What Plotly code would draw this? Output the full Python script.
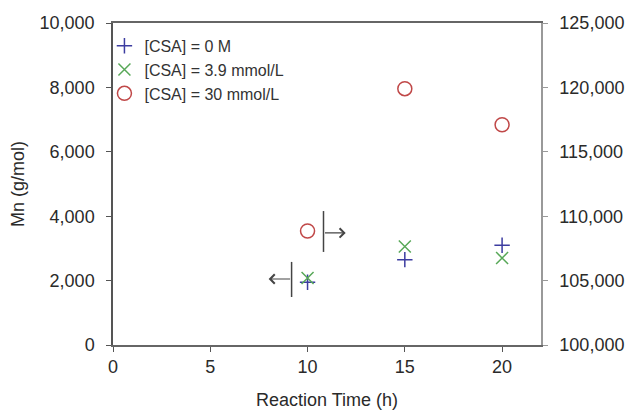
import plotly.graph_objects as go

time_h = [10, 15, 20]
mn_csa0 = [1950, 2650, 3100]          # left axis
mn_csa39 = [2080, 3060, 2700]         # left axis
mn_csa30 = [108850, 119900, 117100]   # right axis

x_ticks = [0, 5, 10, 15, 20]
y_left_ticks = [0, 2000, 4000, 6000, 8000, 10000]
y_right_ticks = [100000, 105000, 110000, 115000, 120000, 125000]

font = "Liberation Sans, Arial, sans-serif"

fig = go.Figure()
fig.add_trace(go.Scatter(
    x=time_h, y=mn_csa0, mode="markers", name="[CSA] = 0 M",
    marker=dict(symbol="cross-thin", size=11, line=dict(color="#3c3ca0", width=1.5)),
))
fig.add_trace(go.Scatter(
    x=time_h, y=mn_csa39, mode="markers", name="[CSA] = 3.9 mmol/L",
    marker=dict(symbol="x-thin", size=12, line=dict(color="#58a858", width=1.5)),
))
fig.add_trace(go.Scatter(
    x=time_h, y=mn_csa30, mode="markers", name="[CSA] = 30 mmol/L", yaxis="y2",
    marker=dict(symbol="circle-open", size=14, color="#c04848", line=dict(color="#c04848", width=1.5)),
))

# axis indicator arrows
arrow_col = "#444444"
fig.add_shape(type="line", x0=9.18, x1=9.18, y0=1490, y1=2580, xref="x", yref="y",
              line=dict(color=arrow_col, width=1.5))
fig.add_annotation(x=8.0, y=2050, ax=9.18, ay=2050, xref="x", yref="y", axref="x", ayref="y",
                   showarrow=True, arrowhead=4, arrowsize=1.5, arrowwidth=1.2, arrowcolor=arrow_col, text="")
fig.add_shape(type="line", x0=10.82, x1=10.82, y0=2890, y1=4160, xref="x", yref="y",
              line=dict(color=arrow_col, width=1.5))
fig.add_annotation(x=11.96, y=3480, ax=10.82, ay=3480, xref="x", yref="y", axref="x", ayref="y",
                   showarrow=True, arrowhead=4, arrowsize=1.5, arrowwidth=1.2, arrowcolor=arrow_col, text="")

# page body has an 8px margin, so the figure is sized/offset to compensate
fig.update_layout(
    width=626, height=406,
    margin=dict(l=105, r=93, t=15, b=69),
    paper_bgcolor="white", plot_bgcolor="white",
    font=dict(family=font, size=18, color="#2a2a2a"),
    showlegend=True,
    legend=dict(x=-0.02, y=0.982, xanchor="left", yanchor="top", bgcolor="rgba(0,0,0,0)",
                font=dict(size=16, color="#333333"), itemwidth=30, tracegroupgap=0),
    xaxis=dict(range=[0, 22], tickvals=x_ticks, ticks="outside", ticklen=5, tickcolor="#555555",
               showline=True, linecolor="#666666", linewidth=1.5, mirror=True, showgrid=False,
               zeroline=False, automargin=False,
               title=dict(text="Reaction Time (h)", font=dict(size=18), standoff=17)),
    yaxis=dict(range=[0, 10000], tickvals=y_left_ticks, tickformat=",", ticks="outside", ticklen=5,
               tickcolor="#555555", showline=True, linecolor="#555555", linewidth=1.5, showgrid=False,
               zeroline=False, ticklabelstandoff=8, automargin=False,
               title=dict(text="Mn (g/mol)", font=dict(size=18), standoff=10)),
    yaxis2=dict(range=[100000, 125000], tickvals=y_right_ticks, tickformat=",", overlaying="y",
                side="right", ticks="outside", ticklen=5, tickcolor="#999999", showline=True,
                linecolor="#999999", linewidth=1.5, showgrid=False, zeroline=False,
                ticklabelstandoff=8, automargin=False),
)

fig.write_html("out.html")
